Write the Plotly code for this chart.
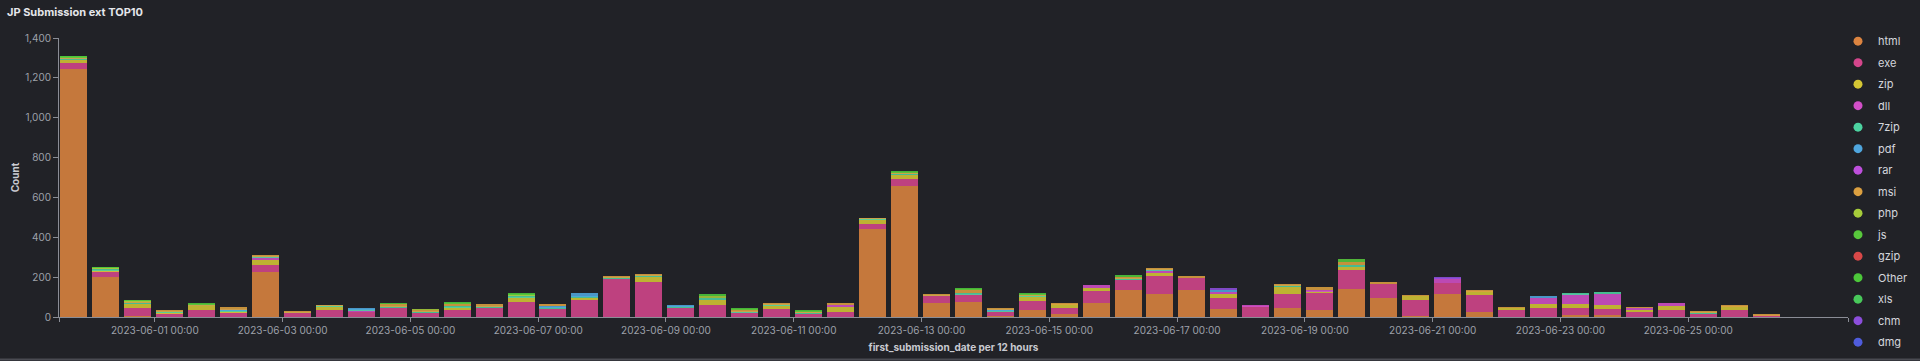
import pandas as pd
import plotly.graph_objects as go

# ---------------- data ----------------
BUCKET_START = "2023-05-30 12:00"
N_BUCKETS = 54
RANGE = ["2023-05-30 12:00", "2023-06-27 12:00"]
TICK_DAYS = ["2023-06-01", "2023-06-03", "2023-06-05", "2023-06-07", "2023-06-09",
             "2023-06-11", "2023-06-13", "2023-06-15", "2023-06-17", "2023-06-19",
             "2023-06-21", "2023-06-23", "2023-06-25"]

html = [1246, 203, 3, 0, 0, 0, 226, 0, 0, 0,
        0, 0, 0, 0, 0, 0, 0, 0, 0, 0,
        0, 0, 0, 0, 0, 444, 659, 70, 75, 5,
        34, 13, 70, 134, 114, 134, 39, 0, 47, 34,
        143, 96, 3, 117, 25, 0, 0, 10, 8, 0,
        0, 0, 0, 0]
exe = [29, 26, 42, 20, 37, 25, 37, 22, 37, 27,
       47, 22, 37, 47, 75, 42, 87, 193, 176, 47,
       59, 25, 39, 17, 25, 22, 32, 36, 39, 25,
       45, 34, 61, 54, 92, 64, 58, 54, 70, 88,
       92, 72, 84, 56, 84, 34, 47, 37, 34, 25,
       34, 17, 37, 10]
zip_ = [16, 4, 20, 3, 20, 4, 25, 0, 17, 0,
        0, 0, 12, 0, 25, 0, 10, 0, 25, 0,
        28, 0, 20, 0, 25, 24, 22, 0, 0, 0,
        25, 17, 17, 0, 17, 0, 20, 0, 34, 6,
        16, 0, 20, 0, 20, 13, 20, 20, 17, 12,
        20, 0, 17, 0]
dll = [0, 0, 0, 0, 0, 0, 12, 0, 0, 8,
       0, 0, 0, 0, 0, 0, 0, 0, 0, 0,
       0, 0, 0, 0, 12, 0, 0, 0, 0, 0,
       0, 0, 11, 0, 12, 0, 10, 3, 0, 10,
       0, 0, 0, 18, 0, 0, 30, 47, 58, 10,
       16, 0, 0, 0]
zip7 = [6, 8, 10, 3, 3, 5, 3, 2, 3, 4,
        4, 4, 6, 4, 10, 8, 5, 3, 6, 4,
        8, 4, 3, 8, 0, 3, 8, 3, 8, 4,
        5, 0, 0, 5, 3, 0, 0, 0, 5, 0,
        9, 0, 0, 0, 0, 0, 0, 3, 5, 0,
        0, 5, 0, 0]
pdf = [2, 0, 0, 0, 0, 3, 0, 0, 0, 8,
       0, 0, 0, 3, 0, 4, 20, 0, 0, 8,
       0, 0, 0, 0, 0, 0, 0, 0, 0, 3,
       0, 0, 0, 0, 0, 0, 8, 0, 0, 0,
       0, 0, 0, 0, 0, 0, 7, 0, 0, 0,
       0, 0, 0, 0]
rar = [0, 0, 0, 0, 0, 0, 0, 0, 0, 0,
       0, 0, 0, 0, 0, 0, 0, 0, 0, 0,
       0, 0, 0, 0, 0, 0, 0, 0, 0, 0,
       0, 0, 0, 0, 0, 0, 0, 0, 0, 0,
       0, 0, 0, 4, 0, 0, 0, 0, 0, 0,
       0, 0, 0, 0]
msi = [3, 3, 3, 7, 4, 11, 5, 3, 3, 0,
       15, 11, 15, 10, 0, 12, 0, 5, 6, 0,
       0, 10, 5, 5, 5, 2, 5, 8, 17, 10,
       6, 3, 0, 10, 5, 3, 0, 0, 7, 13,
       17, 3, 2, 0, 3, 3, 0, 0, 0, 3,
       0, 8, 5, 7]
php = [2, 2, 3, 0, 0, 0, 0, 0, 0, 0,
       0, 2, 0, 0, 5, 0, 0, 0, 0, 0,
       12, 0, 0, 0, 0, 0, 0, 0, 0, 0,
       0, 0, 0, 0, 0, 0, 0, 0, 0, 0,
       0, 0, 0, 0, 0, 0, 0, 0, 0, 0,
       0, 0, 0, 0]
js = [2, 0, 0, 0, 0, 0, 0, 0, 0, 0,
      0, 0, 0, 0, 0, 0, 0, 0, 0, 0,
      0, 0, 0, 0, 0, 0, 0, 0, 0, 0,
      0, 0, 0, 0, 0, 0, 0, 0, 0, 0,
      13, 0, 0, 0, 0, 0, 0, 0, 0, 0,
      0, 0, 0, 0]
gzip = [0, 0, 0, 0, 0, 0, 0, 0, 0, 0,
        0, 0, 0, 0, 0, 0, 0, 0, 0, 0,
        0, 0, 0, 0, 0, 0, 0, 0, 0, 0,
        0, 0, 0, 0, 0, 0, 0, 0, 0, 0,
        0, 0, 0, 0, 0, 0, 0, 0, 0, 0,
        0, 0, 0, 0]
other = [2, 2, 3, 0, 2, 0, 0, 0, 0, 0,
         2, 0, 4, 0, 2, 0, 0, 0, 0, 0,
         5, 3, 0, 4, 0, 0, 3, 0, 4, 0,
         2, 0, 0, 3, 0, 0, 0, 0, 0, 0,
         0, 0, 0, 0, 0, 0, 0, 0, 0, 0,
         0, 0, 0, 0]
xls = [0, 0, 0, 0, 0, 0, 0, 0, 0, 0,
       0, 0, 0, 0, 0, 0, 0, 0, 0, 0,
       0, 0, 0, 0, 0, 0, 0, 0, 0, 0,
       0, 0, 0, 0, 0, 0, 0, 0, 0, 0,
       0, 0, 0, 0, 0, 0, 0, 0, 0, 0,
       0, 0, 0, 0]
chm = [0, 0, 0, 0, 0, 0, 0, 0, 0, 0,
       0, 0, 0, 0, 0, 0, 0, 0, 0, 0,
       0, 0, 0, 0, 0, 0, 0, 0, 0, 0,
       0, 0, 0, 0, 0, 0, 11, 0, 0, 0,
       0, 0, 0, 6, 0, 0, 0, 0, 0, 0,
       0, 0, 0, 0]
dmg = [0, 0, 0, 0, 0, 0, 0, 0, 0, 0,
       0, 0, 0, 0, 0, 0, 0, 0, 0, 0,
       0, 0, 0, 0, 0, 0, 0, 0, 0, 0,
       0, 0, 0, 0, 0, 0, 0, 0, 0, 0,
       0, 0, 0, 0, 0, 0, 0, 0, 0, 0,
       0, 0, 0, 0]

SERIES_NAMES = ["html", "exe", "zip", "dll", "7zip", "pdf", "rar", "msi", "php",
                "js", "gzip", "Other", "xls", "chm", "dmg"]
SERIES_VALUES = [html, exe, zip_, dll, zip7, pdf, rar, msi, php,
                 js, gzip, other, xls, chm, dmg]
COLORS = ["#DC8440", "#D4468C", "#D4C634", "#D24FC8", "#4CD2A0", "#4FA6DE",
          "#BE4FDC", "#DCA040", "#A6CC3A", "#58C83C", "#D84848", "#4CC83A",
          "#48C85A", "#8C4EDC", "#4F5CDC"]

# ---------------- style ----------------
BG = "#212227"
AXIS = "#8A8D96"
TICKFONT = "#9EA1AA"
TITLEFONT = "#C9CBD1"
FONT = "Inter, Roboto, sans-serif"

buckets = pd.date_range(BUCKET_START, periods=N_BUCKETS, freq="12h")
PERIOD_MS = 12 * 3600 * 1000

fig = go.Figure()
for name, vals, col in zip(SERIES_NAMES, SERIES_VALUES, COLORS):
    fig.add_trace(go.Bar(
        x=buckets, y=vals, name=name, legendgroup=name, showlegend=False,
        marker=dict(color=col, opacity=0.88, line=dict(width=0)),
        width=0.845 * PERIOD_MS, offset=0.04 * PERIOD_MS,
    ))
for name, col in zip(SERIES_NAMES, COLORS):
    fig.add_trace(go.Scatter(
        x=[None], y=[None], mode="markers", name=name, legendgroup=name,
        showlegend=True, marker=dict(color=col, size=9, symbol="circle"),
    ))

PLOT_TOP, PLOT_BOT = 38.3, 316.7
PH = PLOT_BOT - PLOT_TOP

fig.update_layout(
    width=1920, height=361,
    paper_bgcolor=BG, plot_bgcolor=BG,
    margin=dict(l=59, r=72, t=38, b=44, autoexpand=False),
    barmode="stack", bargap=0,
    font=dict(family=FONT, size=10, color=TICKFONT),
    title=dict(text="JP Submission ext TOP10", x=7 / 1920, xref="container", xanchor="left",
               y=1 - 12.5 / 361, yref="container", yanchor="middle",
               font=dict(family=FONT, size=11, color="#E4E6EB", weight="bold")),
    legend=dict(x=(1838 - 59) / 1789, xanchor="left",
                y=(PLOT_BOT - 27) / PH, yanchor="top",
                font=dict(family=FONT, size=11, color="#D4D6DC"),
                tracegroupgap=2.5, traceorder="grouped",
                bgcolor="rgba(0,0,0,0)", maxheight=600),
    showlegend=True,
)

fig.update_xaxes(
    type="date", range=RANGE,
    tickvals=[RANGE[0]] + TICK_DAYS + [RANGE[1]],
    ticktext=[""] + [d + " 00:00" for d in TICK_DAYS] + [""],
    ticks="outside", ticklen=4, tickcolor=AXIS, tickwidth=1,
    showline=True, linecolor=AXIS, linewidth=1,
    showgrid=False, zeroline=False,
    tickfont=dict(family=FONT, size=10, color=TICKFONT),
    title=dict(text="first_submission_date per 12 hours", standoff=8,
               font=dict(family=FONT, size=10, color=TITLEFONT, weight="bold")),
)
fig.update_yaxes(
    range=[0, 1400], tickvals=[0, 200, 400, 600, 800, 1000, 1200, 1400],
    tickformat=",", ticks="outside", ticklen=5, tickcolor=AXIS, tickwidth=1,
    showline=True, linecolor=AXIS, linewidth=1,
    showgrid=False, zeroline=False,
    tickfont=dict(family=FONT, size=10, color=TICKFONT),
    title=dict(text="Count", standoff=3,
               font=dict(family=FONT, size=10, color=TITLEFONT, weight="bold")),
)

# bottom panel border
fig.add_shape(type="line", xref="paper", yref="paper",
              x0=-59 / 1789, x1=(1920 - 59) / 1789,
              y0=(PLOT_BOT - 359) / PH, y1=(PLOT_BOT - 359) / PH,
              line=dict(color="#4A4B52", width=2))

fig.write_html("out.html",
               config={"displayModeBar": False},
               post_script="document.body.style.margin='0px';document.body.style.overflow='hidden';")
